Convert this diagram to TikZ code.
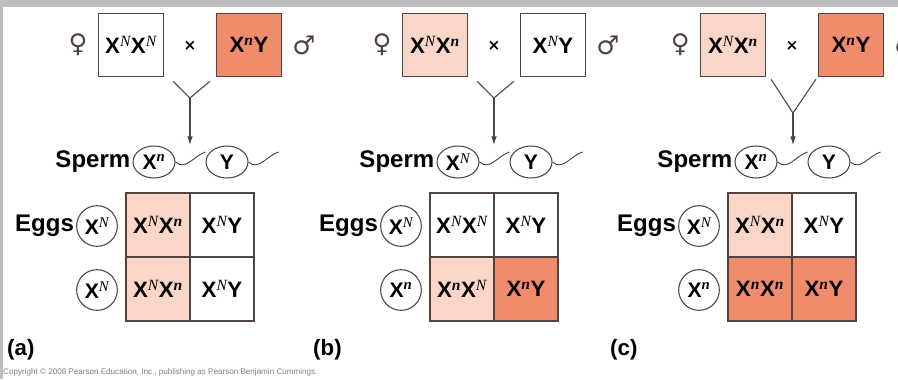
\documentclass[tikz,border=0pt]{standalone}
\usepackage{fontspec}
\setmainfont{Liberation Sans}
\newfontfamily\supfont{Liberation Serif}
\newfontfamily\symfont{DejaVu Sans}
\usetikzlibrary{positioning,shapes.geometric,arrows.meta}

\definecolor{carrier}{HTML}{F9D6C8}
\definecolor{affected}{HTML}{F08B6B}
\definecolor{edge}{HTML}{4F4441}
\definecolor{frame}{HTML}{BEBEBE}

\newcommand{\XN}{X\textsuperscript{\supfont\mdseries\itshape N}}
\newcommand{\Xn}{X\textsuperscript{\supfont\bfseries\itshape n}}

\tikzset{
  parent/.style={draw=edge, line width=1.1pt, minimum width=19.5mm, minimum height=19mm,
    inner sep=0pt, font=\fontsize{19}{22}\selectfont\bfseries},
  cell/.style={draw=edge, line width=1.1pt, minimum size=19.2mm, inner sep=0pt,
    font=\fontsize{19}{22}\selectfont\bfseries},
  egg/.style={circle, draw=edge, line width=0.9pt, minimum size=12.2mm, inner sep=0pt,
    font=\fontsize{18}{21}\selectfont\bfseries},
  sperm/.style={ellipse, draw=edge, line width=0.9pt, minimum width=12.6mm, minimum height=9.6mm,
    inner sep=0pt, font=\fontsize{18}{21}\selectfont\bfseries},
  rowname/.style={inner sep=0pt, font=\fontsize{20.5}{24}\selectfont\bfseries},
  panelname/.style={anchor=west, inner sep=0pt, font=\fontsize{19}{22}\selectfont\bfseries},
  sex/.style={inner sep=0pt, text=edge, font=\symfont\fontsize{22}{24}\selectfont},
  cross/.style={inner sep=0pt, font=\symfont\bfseries\fontsize{13}{14}\selectfont},
  tail/.style={draw=edge, line width=0.8pt},
  cline/.style={draw=edge, line width=0.9pt}
}

\begin{document}
\begin{tikzpicture}[x=0.3mm, y=-0.3mm]

  \clip (0,0) rectangle (898,379);
  \fill[white] (0,0) rectangle (898,379);
  \fill[frame] (0,0) rectangle (898,7);
  \fill[frame] (0,0) rectangle (3,379);

  % (a)
  \begin{scope}[name prefix=a-]
  \node[parent] (fem) at (131,45) {\XN\XN};
  \node[parent, fill=affected] (male) at (249,45) {\Xn Y};
  \node[sex] (venus) [left=3mm of fem] {♀};
  \node[sex] (mars) [right=3mm of male] {♂};
  \node[cross] (x) at (190,46) {×};
  \coordinate (join) at (190,98);
  \coordinate (tip) at (190,145);
  \draw[cline] ([shift={(9,4)}]fem.south east) -- (join) -- ([shift={(-6,4)}]male.south west);
  \draw[cline, -{Latex[length=2.6mm, width=1.7mm]}] (join) -- (tip);

  \node[sperm] (sx) at (154,162) {\Xn};
  \node[sperm] (sy) at (227,162) {Y};
  \node[rowname] (sperm) [left=0.6mm of sx] {Sperm};
  \draw[tail] (sx.east) .. controls +(10,9) and +(-12,4) .. +(30,-10);
  \draw[tail] (sy.east) .. controls +(10,9) and +(-12,4) .. +(30,-10);

  \node[egg] (e1) at (97,226) {\XN};
  \node[egg] (e2) at (97,290) {\XN};
  \node[rowname] (eggs) [left=0.6mm of e1] {Eggs};

  \node[cell, fill=carrier] (c11) at (158,225) {\XN\Xn};
  \node[cell] (c12) at (222,225) {\XN Y};
  \node[cell, fill=carrier] (c21) at (158,289) {\XN\Xn};
  \node[cell] (c22) at (222,289) {\XN Y};

  \node[panelname] (lab) at (7,350) {(a)};
  \end{scope}

  % (b)
  \begin{scope}[shift={(304,0)}, name prefix=b-]
  \node[parent, fill=carrier] (fem) at (131,45) {\XN\Xn};
  \node[parent] (male) at (249,45) {\XN Y};
  \node[sex] (venus) [left=3mm of fem] {♀};
  \node[sex] (mars) [right=3mm of male] {♂};
  \node[cross] (x) at (190,46) {×};
  \coordinate (join) at (190,98);
  \coordinate (tip) at (190,145);
  \draw[cline] ([shift={(9,4)}]fem.south east) -- (join) -- ([shift={(-6,4)}]male.south west);
  \draw[cline, -{Latex[length=2.6mm, width=1.7mm]}] (join) -- (tip);

  \node[sperm] (sx) at (154,162) {\XN};
  \node[sperm] (sy) at (227,162) {Y};
  \node[rowname] (sperm) [left=0.6mm of sx] {Sperm};
  \draw[tail] (sx.east) .. controls +(10,9) and +(-12,4) .. +(30,-10);
  \draw[tail] (sy.east) .. controls +(10,9) and +(-12,4) .. +(30,-10);

  \node[egg] (e1) at (97,226) {\XN};
  \node[egg] (e2) at (97,290) {\Xn};
  \node[rowname] (eggs) [left=0.6mm of e1] {Eggs};

  \node[cell] (c11) at (158,225) {\XN\XN};
  \node[cell] (c12) at (222,225) {\XN Y};
  \node[cell, fill=carrier] (c21) at (158,289) {\Xn\XN};
  \node[cell, fill=affected] (c22) at (222,289) {\Xn Y};

  \node[panelname] (lab) at (9,350) {(b)};
  \end{scope}

  % (c)
  \begin{scope}[shift={(602,0)}, name prefix=c-]
  \node[parent, fill=carrier] (fem) at (131,45) {\XN\Xn};
  \node[parent, fill=affected] (male) at (249,45) {\Xn Y};
  \node[sex] (venus) [left=3mm of fem] {♀};
  \node[sex] (mars) [right=3mm of male] {♂};
  \node[cross] (x) at (190,46) {×};
  \coordinate (join) at (191,113);
  \coordinate (tip) at (191,145);
  \draw[cline] ([shift={(5,2)}]fem.south east) -- (join) -- ([shift={(-2,2)}]male.south west);
  \draw[cline, -{Latex[length=2.6mm, width=1.7mm]}] (join) -- (tip);

  \node[sperm] (sx) at (154,162) {\Xn};
  \node[sperm] (sy) at (227,162) {Y};
  \node[rowname] (sperm) [left=0.6mm of sx] {Sperm};
  \draw[tail] (sx.east) .. controls +(10,9) and +(-12,4) .. +(30,-10);
  \draw[tail] (sy.east) .. controls +(10,9) and +(-12,4) .. +(30,-10);

  \node[egg] (e1) at (97,226) {\XN};
  \node[egg] (e2) at (97,290) {\Xn};
  \node[rowname] (eggs) [left=0.6mm of e1] {Eggs};

  \node[cell, fill=carrier] (c11) at (158,225) {\XN\Xn};
  \node[cell] (c12) at (222,225) {\XN Y};
  \node[cell, fill=affected] (c21) at (158,289) {\Xn\Xn};
  \node[cell, fill=affected] (c22) at (222,289) {\Xn Y};

  \node[panelname] (lab) at (8,350) {(c)};
  \end{scope}

  \node[anchor=west, inner sep=0pt, text=gray, font=\fontsize{6.9}{8}\selectfont] (copy) at (3,372)
    {Copyright \textcopyright\ 2008 Pearson Education, Inc., publishing as Pearson Benjamin Cummings.};

\end{tikzpicture}
\end{document}
